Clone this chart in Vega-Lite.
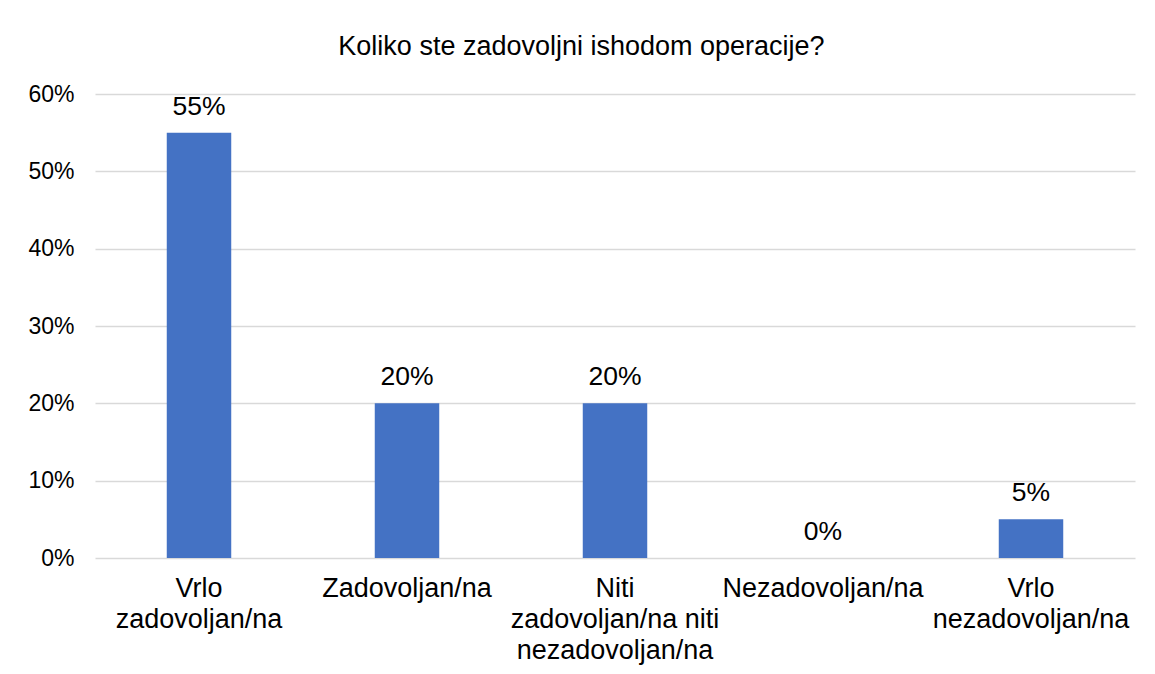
{
  "$schema": "https://vega.github.io/schema/vega-lite/v6.json",
  "autosize": {"type": "none"},
  "width": 1040,
  "height": 464,
  "padding": {"left": 95, "top": 94, "right": 20, "bottom": 116},
  "background": "white",
  "title": {
    "text": "Koliko ste zadovoljni ishodom operacije?",
    "font": "Liberation Sans",
    "fontSize": 27,
    "fontWeight": "normal",
    "color": "#000000",
    "anchor": "middle",
    "frame": "bounds",
    "offset": 22
  },
  "config": {
    "view": {"stroke": null},
    "font": "Liberation Sans"
  },
  "data": {
    "values": [
      {"kategorija": "Vrlo zadovoljan/na", "udio": 0.55},
      {"kategorija": "Zadovoljan/na", "udio": 0.20},
      {"kategorija": "Niti zadovoljan/na niti nezadovoljan/na", "udio": 0.20},
      {"kategorija": "Nezadovoljan/na", "udio": 0.0},
      {"kategorija": "Vrlo nezadovoljan/na", "udio": 0.05}
    ]
  },
  "encoding": {
    "x": {
      "field": "kategorija",
      "type": "nominal",
      "sort": null,
      "scale": {"paddingInner": 0.69, "paddingOuter": 0.345},
      "axis": {
        "title": null,
        "labelAngle": 0,
        "labelFont": "Liberation Sans",
        "labelFontSize": 27,
        "labelColor": "#000000",
        "labelPadding": 17,
        "labelLineHeight": 31,
        "labelBaseline": "top",
        "labelLimit": 400,
        "ticks": false,
        "domain": false,
        "labelExpr": "datum.label == 'Vrlo zadovoljan/na' ? ['Vrlo', 'zadovoljan/na'] : datum.label == 'Niti zadovoljan/na niti nezadovoljan/na' ? ['Niti', 'zadovoljan/na niti', 'nezadovoljan/na'] : datum.label == 'Vrlo nezadovoljan/na' ? ['Vrlo', 'nezadovoljan/na'] : datum.label"
      }
    },
    "y": {
      "field": "udio",
      "type": "quantitative",
      "scale": {"domain": [0, 0.6]},
      "axis": {
        "title": null,
        "format": ".0%",
        "values": [0, 0.1, 0.2, 0.3, 0.4, 0.5, 0.6],
        "labelFont": "Liberation Sans",
        "labelFontSize": 23,
        "labelColor": "#000000",
        "labelPadding": 21,
        "ticks": false,
        "domain": false,
        "grid": true,
        "gridColor": "#d9d9d9",
        "gridWidth": 1.5
      }
    }
  },
  "layer": [
    {
      "mark": {"type": "bar", "color": "#4472C4"}
    },
    {
      "mark": {
        "type": "text",
        "baseline": "middle",
        "align": "center",
        "dy": -26,
        "font": "Liberation Sans",
        "fontSize": 26.5,
        "color": "#000000"
      },
      "encoding": {
        "text": {"field": "udio", "type": "quantitative", "format": ".0%"}
      }
    }
  ]
}
